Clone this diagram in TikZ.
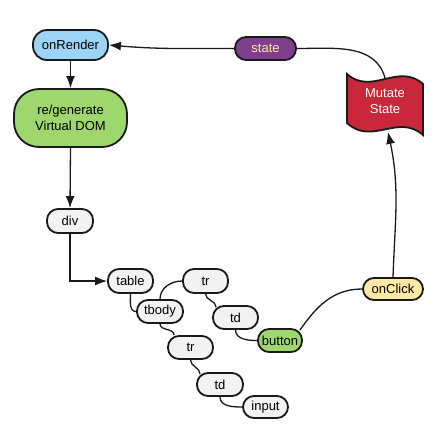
\documentclass[tikz,border=0pt]{standalone}
\usepackage{fontspec}
\setmainfont{Liberation Sans}
\usetikzlibrary{arrows.meta,calc}
\pgfdeclarelayer{bg}
\pgfsetlayers{bg,main}
\definecolor{cblue}{HTML}{9DD4F6}
\definecolor{cgreen}{HTML}{9DD76E}
\definecolor{cpurple}{HTML}{7E3F8C}
\definecolor{cyelltext}{HTML}{FFE9A8}
\definecolor{cred}{HTML}{C8283A}
\definecolor{cyell}{HTML}{FFE8A3}
\definecolor{cgray}{HTML}{F2F2F2}
\definecolor{cline}{HTML}{1A1A1A}
\tikzset{
  box/.style={draw=cline, line width=1.8pt, inner sep=0pt, align=center,
    font=\fontsize{13}{16}\selectfont, text=black},
  pill/.style={box, rounded corners=11pt, fill=cgray},
  conn/.style={draw=cline, line width=1.3pt},
  arr/.style={conn, -{Latex[length=12pt,width=9pt]}},
}
\begin{document}
\begin{tikzpicture}[x=1pt,y=-1pt]
\useasboundingbox (0,0) rectangle (446,432);
% flag shape for Mutate State
\draw[cline, line width=1.8pt, fill=cred]
  (347,74) .. controls (372,96) and (398,62) .. (423,84)
  -- (423,135) .. controls (398,113) and (372,146) .. (347,123) -- cycle;
\node[box, draw=none, text=white, minimum width=76pt, minimum height=44pt] (mutate) at (385,101) {Mutate\\State};

\node[box, fill=cblue, rounded corners=14pt, minimum width=75pt, minimum height=30pt] (onrender) at (70.5,45) {onRender};
\node[box, fill=cgreen, rounded corners=25pt, minimum width=113pt, minimum height=58pt] (regen) at (70.5,118) {re/generate\\Virtual DOM};
\node[box, fill=cpurple, text=cyelltext, rounded corners=11pt, minimum width=61pt, minimum height=23pt] (state) at (265.5,48.5) {state};

\node[pill, minimum width=46pt, minimum height=24pt] (div) at (70,221) {div};
\node[pill, minimum width=45pt, minimum height=24pt] (table) at (130.5,281) {table};
\node[pill, minimum width=46pt, minimum height=23pt] (tbody) at (160,311.5) {tbody};
\node[pill, minimum width=45pt, minimum height=24pt] (tr1) at (205.5,281) {tr};
\node[pill, minimum width=45pt, minimum height=23pt] (td1) at (235.5,317.5) {td};
\node[pill, fill=cgreen, minimum width=44pt, minimum height=23pt] (button) at (280,340.5) {button};
\node[pill, minimum width=45pt, minimum height=23pt] (tr2) at (190.5,347.5) {tr};
\node[pill, minimum width=46pt, minimum height=23pt] (td2) at (220,384.5) {td};
\node[pill, minimum width=45pt, minimum height=22pt] (input) at (265.5,407) {input};
\node[pill, fill=cyell, minimum width=60pt, minimum height=22pt] (onclick) at (393,289) {onClick};

\begin{pgfonlayer}{bg}
\draw[arr] (onrender.south) -- (regen.north);
\draw[arr] (regen.south) -- (div.north);
\draw[arr] (div.south) |- (table.west);
\draw[conn] (table.south) to[out=-90,in=180] (tbody.west);
\draw[conn] (tbody.north) to[out=90,in=180] (tr1.west);
\draw[conn] (tbody.south) to[out=-90,in=90] ([xshift=7pt]tr2.north west);
\draw[conn] (tr1.south) to[out=-90,in=90] ([xshift=4pt,yshift=-2pt]td1.north west);
\draw[conn] (td1.south) to[out=-90,in=180] (button.west);
\draw[conn] (tr2.south) to[out=-90,in=90] ([xshift=4pt,yshift=-2pt]td2.north west);
\draw[conn] (td2.south) to[out=-90,in=180] (input.west);
\draw[conn] ([xshift=-3pt,yshift=-2pt]button.north east) to[out=55,in=180] (onclick.west);
\end{pgfonlayer}
\draw[arr] (onclick.north) to[out=88,in=-78] ([shift={(3pt,-8pt)}]mutate.south);
\begin{pgfonlayer}{bg}
\draw[conn] (mutate.north) to[out=105,in=0] (state.east);
\draw[arr] (state.west) to[out=180,in=-5] (onrender.east);
\end{pgfonlayer}
\end{tikzpicture}
\end{document}
